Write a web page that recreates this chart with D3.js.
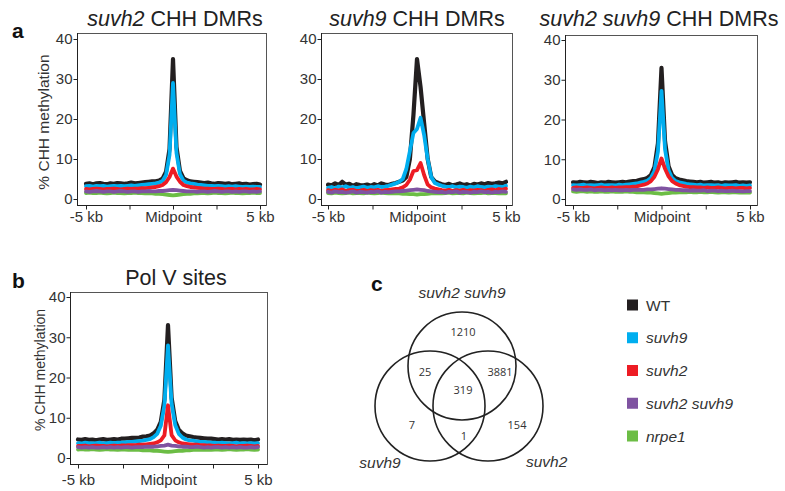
<!DOCTYPE html>
<html>
<head>
<meta charset="utf-8">
<script src="https://cdn.jsdelivr.net/npm/d3@7"></script>
<style>
  body { margin: 0; background: #fff; }
  svg { display: block; font-family: "Liberation Sans", Arial, sans-serif; }
</style>
</head>
<body>
<svg id="chart" width="785" height="491"></svg>
<script>
// bin centres, kb from DMR / Pol V site midpoint
const binsKb = [-5,-4.8,-4.6,-4.4,-4.2,-4,-3.8,-3.6,-3.4,-3.2,-3,-2.8,-2.6,-2.4,-2.2,-2,-1.8,-1.6,-1.4,-1.2,
  -1,-0.8,-0.6,-0.4,-0.2,0,0.2,0.4,0.6,0.8,1,
  1.2,1.4,1.6,1.8,2,2.2,2.4,2.6,2.8,3,3.2,3.4,3.6,3.8,4,4.2,4.4,4.6,4.8,5];

const genotypes = ["WT", "suvh9", "suvh2", "suvh2 suvh9", "nrpe1"];
const genotypeColors = ["#231f20", "#00aeef", "#ed1c24", "#7f53a1", "#6cbd45"];
const drawOrder = ["WT", "suvh9", "suvh2", "nrpe1", "suvh2 suvh9"];
const yTicks = [0, 10, 20, 30, 40];
const xTicks = [-5, -2.5, 0, 2.5, 5];
const xTickLabels = ["-5 kb", "", "Midpoint", "", "5 kb"];

// % CHH methylation, suvh2 CHH DMRs
const suvh2Dmr_WT = [3.8,3.9,3.7,3.9,4.0,3.8,3.7,3.9,3.8,4.0,3.9,3.8,3.9,4.1,3.9,4.0,4.1,4.2,4.3,4.4,
  4.4,4.6,5.1,6.8,12.5,35,13,7.0,5.2,4.7,4.4,
  4.3,4.2,4.1,4.0,4.1,3.9,3.8,4.0,3.9,3.8,3.9,3.7,3.8,3.9,3.7,3.8,3.6,3.7,3.8,3.6];
const suvh2Dmr_suvh9 = [3.2,3.3,3.1,3.3,3.2,3.3,3.1,3.2,3.3,3.2,3.3,3.2,3.3,3.4,3.3,3.4,3.5,3.6,3.7,3.8,
  3.9,4.1,4.5,6.0,11.0,29,11.5,6.2,4.6,4.1,3.9,
  3.8,3.6,3.5,3.4,3.3,3.3,3.2,3.3,3.2,3.1,3.2,3.1,3.2,3.1,3.0,3.1,3.0,3.1,3.0,3.0];
const suvh2Dmr_suvh2 = [2.5,2.4,2.5,2.6,2.5,2.4,2.5,2.5,2.6,2.5,2.4,2.5,2.6,2.5,2.6,2.6,2.7,2.7,2.8,2.9,
  3.0,3.2,3.5,4.2,5.5,7.6,5.6,4.3,3.5,3.2,3.0,
  2.9,2.8,2.7,2.6,2.6,2.5,2.5,2.6,2.5,2.4,2.5,2.5,2.4,2.5,2.4,2.5,2.4,2.4,2.5,2.4];
const suvh2Dmr_suvh2suvh9 = [1.9,1.8,1.9,2.0,1.9,1.8,1.9,1.9,1.8,1.9,2.0,1.9,1.8,1.9,1.9,1.8,1.9,1.9,2.0,1.9,
  1.9,2.0,2.0,2.1,2.2,2.3,2.2,2.1,2.0,1.9,1.9,
  1.9,1.8,1.9,1.9,1.8,1.9,2.0,1.9,1.8,1.9,1.9,1.8,1.9,1.8,1.9,1.9,1.8,1.9,1.8,1.9];
const suvh2Dmr_nrpe1 = [1.5,1.6,1.5,1.5,1.6,1.5,1.4,1.5,1.6,1.5,1.5,1.4,1.5,1.5,1.6,1.5,1.5,1.4,1.4,1.4,
  1.3,1.3,1.2,1.1,1.0,0.9,1.0,1.1,1.2,1.3,1.3,
  1.4,1.4,1.5,1.5,1.4,1.5,1.6,1.5,1.5,1.4,1.5,1.6,1.5,1.5,1.4,1.5,1.5,1.6,1.5,1.5];

// suvh9 CHH DMRs
const suvh9Dmr_WT = [3.6,3.4,3.9,3.5,4.3,3.6,3.8,3.3,3.7,3.5,3.4,3.6,3.3,3.7,3.4,3.9,3.6,3.5,3.8,4.0,
  4.3,4.6,5.5,10,21,35,28,19,10,5.5,4.4,
  4.0,3.7,3.5,3.8,3.4,3.6,3.9,3.5,3.7,3.4,3.8,3.6,3.9,3.7,4.0,3.8,3.9,4.1,3.9,4.3];
const suvh9Dmr_suvh9 = [2.8,3.0,2.7,3.1,2.9,3.2,2.8,3.0,2.7,2.9,3.1,2.8,3.0,2.9,3.2,3.0,3.1,3.3,3.6,3.9,
  4.3,5.0,7.5,12,16.5,17.5,20.3,16,10,5.5,4.0,
  3.6,3.3,3.1,3.0,3.2,2.9,3.1,3.0,2.8,3.1,2.9,3.2,3.0,2.9,3.1,3.0,3.2,3.1,3.0,3.3];
const suvh9Dmr_suvh2 = [2.2,2.0,2.3,2.1,2.4,2.0,2.2,2.3,2.0,2.1,2.3,2.0,2.2,2.1,2.3,2.0,2.2,2.3,2.4,2.5,
  2.6,2.9,3.5,4.8,7.0,7.2,9.0,6.0,3.6,2.9,2.6,
  2.4,2.2,2.1,2.3,2.0,2.2,2.1,2.3,2.0,2.2,2.1,2.3,2.2,2.0,2.3,2.4,2.2,2.5,2.3,2.6];
const suvh9Dmr_suvh2suvh9 = [1.8,1.6,1.9,1.7,1.8,1.6,1.7,1.9,1.6,1.8,1.7,1.6,1.8,1.7,1.9,1.6,1.8,1.7,1.8,1.9,
  1.9,2.0,2.1,2.2,2.3,2.4,2.3,2.2,2.0,1.9,1.8,
  1.7,1.8,1.6,1.8,1.7,1.9,1.6,1.8,1.7,1.6,1.8,1.7,1.9,1.7,1.8,1.6,1.8,1.7,1.9,1.8];
const suvh9Dmr_nrpe1 = [1.5,1.4,1.6,1.5,1.4,1.5,1.6,1.4,1.5,1.5,1.4,1.6,1.5,1.4,1.5,1.6,1.5,1.4,1.5,1.4,
  1.4,1.3,1.3,1.2,1.2,1.1,1.2,1.2,1.3,1.4,1.4,
  1.5,1.4,1.5,1.6,1.4,1.5,1.5,1.4,1.6,1.5,1.4,1.5,1.5,1.6,1.4,1.5,1.5,1.4,1.5,1.4];

// suvh2 suvh9 CHH DMRs
const doubleDmr_WT = [4.2,4.1,4.3,4.2,4.1,4.3,4.2,4.0,4.2,4.1,4.3,4.2,4.1,4.2,4.3,4.2,4.4,4.5,4.6,4.8,
  5.0,5.3,6.0,8.0,14,33,14.5,8.2,6.0,5.2,4.9,
  4.7,4.5,4.4,4.3,4.2,4.3,4.1,4.2,4.3,4.1,4.2,4.0,4.2,4.1,4.2,4.3,4.1,4.2,4.1,4.2];
const doubleDmr_suvh9 = [3.5,3.4,3.5,3.6,3.4,3.5,3.4,3.5,3.6,3.4,3.5,3.5,3.4,3.6,3.5,3.6,3.7,3.8,3.9,4.1,
  4.3,4.6,5.3,7.0,12,27.2,12.5,7.2,5.3,4.5,4.2,
  4.0,3.8,3.7,3.6,3.5,3.6,3.4,3.5,3.5,3.4,3.5,3.3,3.5,3.4,3.4,3.5,3.3,3.4,3.3,3.4];
const doubleDmr_suvh2 = [2.8,2.9,2.8,2.8,2.9,2.8,2.7,2.8,2.9,2.8,2.8,2.9,2.8,2.9,2.9,3.0,3.0,3.1,3.2,3.4,
  3.6,3.9,4.5,5.6,7.5,10.2,7.6,5.7,4.5,3.9,3.5,
  3.3,3.1,3.0,3.0,2.9,2.9,2.8,2.9,2.8,2.8,2.9,2.8,2.7,2.8,2.8,2.7,2.8,2.8,2.7,2.8];
const doubleDmr_suvh2suvh9 = [2.4,2.3,2.4,2.3,2.3,2.4,2.2,2.3,2.3,2.2,2.3,2.2,2.3,2.2,2.2,2.3,2.2,2.3,2.3,2.3,
  2.3,2.4,2.4,2.5,2.6,2.7,2.6,2.5,2.4,2.3,2.3,
  2.2,2.2,2.1,2.2,2.1,2.1,2.2,2.0,2.1,2.1,2.0,2.1,2.0,2.0,2.1,2.0,2.0,1.9,2.0,2.0];
const doubleDmr_nrpe1 = [1.9,1.8,1.9,1.9,1.8,1.9,1.8,1.8,1.9,1.8,1.8,1.9,1.8,1.8,1.8,1.9,1.8,1.8,1.7,1.7,
  1.7,1.6,1.6,1.5,1.4,1.3,1.4,1.5,1.6,1.6,1.7,
  1.7,1.7,1.8,1.7,1.7,1.8,1.7,1.7,1.8,1.7,1.6,1.7,1.7,1.6,1.7,1.7,1.6,1.6,1.7,1.6];

// Pol V sites
const polV_WT = [4.6,4.5,4.7,4.5,4.6,4.4,4.6,4.7,4.5,4.6,4.7,4.6,4.8,4.8,4.9,5.0,5.0,5.1,5.3,5.4,
  5.6,6.1,7.0,9.0,14.5,33,15,9.2,7.0,6.1,5.6,
  5.4,5.2,5.1,5.0,4.9,4.8,4.8,4.7,4.6,4.7,4.6,4.7,4.5,4.6,4.5,4.6,4.5,4.6,4.4,4.6];
const polV_suvh9 = [3.7,3.6,3.8,3.7,3.6,3.7,3.8,3.6,3.7,3.8,3.7,3.8,3.8,3.9,4.0,4.0,4.1,4.2,4.3,4.5,
  4.7,5.2,6.0,8.0,13,28,13.5,8.2,6.0,5.1,4.6,
  4.4,4.3,4.1,4.0,4.0,3.9,3.8,3.8,3.7,3.8,3.7,3.6,3.7,3.8,3.6,3.7,3.6,3.7,3.6,3.7];
const polV_suvh2 = [3.0,3.0,3.1,2.9,3.0,3.1,3.0,3.0,2.9,3.0,3.1,3.0,3.1,3.1,3.2,3.2,3.2,3.3,3.3,3.4,
  3.5,3.6,3.9,4.4,5.6,13.1,5.7,4.4,3.9,3.6,3.5,
  3.4,3.3,3.3,3.2,3.2,3.1,3.1,3.0,3.1,3.0,3.0,3.1,3.0,2.9,3.0,3.0,3.1,3.0,2.9,3.0];
const polV_suvh2suvh9 = [2.7,2.6,2.7,2.6,2.7,2.6,2.6,2.7,2.6,2.7,2.6,2.7,2.6,2.7,2.7,2.6,2.7,2.7,2.7,2.8,
  2.8,2.8,2.9,3.0,3.1,3.3,3.1,3.0,2.9,2.8,2.8,
  2.7,2.7,2.8,2.7,2.6,2.7,2.6,2.7,2.7,2.6,2.7,2.6,2.7,2.6,2.7,2.6,2.6,2.7,2.6,2.7];
const polV_nrpe1 = [2.1,2.2,2.1,2.1,2.2,2.1,2.0,2.1,2.2,2.1,2.1,2.0,2.1,2.1,2.0,2.1,2.0,2.0,1.9,1.9,
  1.9,1.8,1.8,1.7,1.6,1.5,1.6,1.7,1.8,1.8,1.9,
  1.9,2.0,2.0,2.1,2.0,2.1,2.0,2.1,2.1,2.0,2.1,2.2,2.1,2.0,2.1,2.1,2.2,2.1,2.0,2.1];

// Venn: overlap of CHH DMRs
const vennSets = ["suvh2 suvh9", "suvh9", "suvh2"];
const vennRegions = ["suvh2 suvh9 only", "suvh2 suvh9 & suvh9", "suvh2 suvh9 & suvh2", "all three",
  "suvh9 only", "suvh2 only", "suvh9 & suvh2"];
const vennCounts = [1210, 25, 3881, 319, 7, 154, 1];

const svg = d3.select("#chart");
const colorOf = d3.scaleOrdinal().domain(genotypes).range(genotypeColors);
const textColor = "#333";

const panels = [
  { title: [["suvh2", true], [" CHH DMRs", false]], tx: 175, ty: 26,
    data: [suvh2Dmr_WT, suvh2Dmr_suvh9, suvh2Dmr_suvh2, suvh2Dmr_suvh2suvh9, suvh2Dmr_nrpe1],
    left: 77, right: 266, top: 33, bottom: 205, xa: 86, xb: 260, y0: 199, y40: 39,
    xPad: 2, yLabel: { x: 49, y: 122, size: 15.5 } },
  { title: [["suvh9", true], [" CHH DMRs", false]], tx: 417, ty: 26,
    data: [suvh9Dmr_WT, suvh9Dmr_suvh9, suvh9Dmr_suvh2, suvh9Dmr_suvh2suvh9, suvh9Dmr_nrpe1],
    left: 321, right: 512, top: 33, bottom: 205, xa: 328, xb: 506, y0: 199, y40: 39,
    xPad: 2 },
  { title: [["suvh2 suvh9", true], [" CHH DMRs", false]], tx: 659, ty: 26,
    data: [doubleDmr_WT, doubleDmr_suvh9, doubleDmr_suvh2, doubleDmr_suvh2suvh9, doubleDmr_nrpe1],
    left: 565, right: 757, top: 35, bottom: 205, xa: 573, xb: 750, y0: 199, y40: 40,
    xPad: 2 },
  { title: [["Pol V sites", false]], tx: 176, ty: 285,
    data: [polV_WT, polV_suvh9, polV_suvh2, polV_suvh2suvh9, polV_nrpe1],
    left: 70, right: 267, top: 292, bottom: 464, xa: 78, xb: 258, y0: 458, y40: 297,
    xPad: 6, yLabel: { x: 45, y: 370, size: 14 } }
];

function drawPanel(p) {
  const x = d3.scaleLinear().domain([-5, 5]).range([p.xa, p.xb]);
  const y = d3.scaleLinear().domain([0, 40]).range([p.y0, p.y40]);
  const g = svg.append("g");

  g.append("rect")
    .attr("x", p.left + 0.5).attr("y", p.top + 0.5)
    .attr("width", p.right - p.left).attr("height", p.bottom - p.top)
    .attr("fill", "none").attr("stroke", "#555").attr("stroke-width", 1);

  const line = d3.line().x((d, i) => x(binsKb[i])).y(d => y(d));
  drawOrder.forEach(name => {
    const idx = genotypes.indexOf(name);
    g.append("path")
      .datum(p.data[idx])
      .attr("d", line)
      .attr("fill", "none")
      .attr("stroke", colorOf(name))
      .attr("stroke-width", name === "WT" ? 4.2 : 3.8)
      .attr("stroke-linejoin", "round")
      .attr("stroke-linecap", "round");
  });

  const yAxis = g.append("g")
    .attr("transform", `translate(${p.left + 0.5},0)`)
    .call(d3.axisLeft(y).tickValues(yTicks).tickSize(4).tickPadding(1).tickSizeOuter(0));
  yAxis.select(".domain").attr("stroke", "#222").attr("d", `M0,${p.top}V${p.bottom}`);
  yAxis.selectAll("text").attr("font-size", 15).attr("fill", textColor)
    .attr("font-family", "Liberation Sans, Arial, sans-serif");
  yAxis.selectAll(".tick line").attr("stroke", "#222");

  const xAxis = g.append("g")
    .attr("transform", `translate(0,${p.bottom + 0.5})`)
    .call(d3.axisBottom(x).tickValues(xTicks)
      .tickFormat((d, i) => xTickLabels[i]).tickSize(4).tickPadding(p.xPad).tickSizeOuter(0));
  xAxis.select(".domain").attr("stroke", "#222").attr("d", `M${p.left},0H${p.right}`);
  xAxis.selectAll("text").attr("font-size", 15).attr("fill", textColor)
    .attr("font-family", "Liberation Sans, Arial, sans-serif");
  xAxis.selectAll(".tick line").attr("stroke", "#222");

  const t = g.append("text")
    .attr("x", p.tx).attr("y", p.ty)
    .attr("text-anchor", "middle").attr("font-size", 21.5).attr("fill", "#222");
  p.title.forEach(([s, it]) => {
    t.append("tspan").attr("font-style", it ? "italic" : "normal").text(s);
  });

  if (p.yLabel) {
    g.append("text")
      .attr("transform", `translate(${p.yLabel.x},${p.yLabel.y}) rotate(-90)`)
      .attr("text-anchor", "middle")
      .attr("font-size", p.yLabel.size).attr("fill", textColor)
      .text("% CHH methylation");
  }
}

panels.forEach(drawPanel);

// panel letters
[["a", 12, 38], ["b", 12, 288], ["c", 371, 291]].forEach(([s, lx, ly]) => {
  svg.append("text").attr("x", lx).attr("y", ly)
    .attr("font-size", 21).attr("font-weight", "bold").attr("fill", "#111").text(s);
});

// Venn diagram
const vennCircles = [
  { cx: 462, cy: 366, r: 54 },
  { cx: 430, cy: 406, r: 55 },
  { cx: 488, cy: 406, r: 55 }
];
const venn = svg.append("g");
venn.selectAll("circle").data(vennCircles).join("circle")
  .attr("cx", d => d.cx).attr("cy", d => d.cy).attr("r", d => d.r)
  .attr("fill", "none").attr("stroke", "#222").attr("stroke-width", 1.6);

const vennSetLabelPos = [
  { x: 462, y: 298, anchor: "middle" },
  { x: 380, y: 468, anchor: "middle" },
  { x: 526, y: 467, anchor: "start" }
];
venn.selectAll("text.set").data(vennSets).join("text")
  .attr("class", "set")
  .attr("x", (d, i) => vennSetLabelPos[i].x).attr("y", (d, i) => vennSetLabelPos[i].y)
  .attr("text-anchor", (d, i) => vennSetLabelPos[i].anchor)
  .attr("font-size", 15.5).attr("font-style", "italic").attr("fill", textColor)
  .text(d => d);

const vennCountPos = [
  { x: 463, y: 336 }, { x: 425, y: 376 }, { x: 500, y: 376 }, { x: 463, y: 394 },
  { x: 412, y: 429 }, { x: 517, y: 429 }, { x: 464, y: 440 }
];
venn.selectAll("text.count").data(vennCounts).join("text")
  .attr("class", "count")
  .attr("x", (d, i) => vennCountPos[i].x).attr("y", (d, i) => vennCountPos[i].y)
  .attr("text-anchor", "middle")
  .attr("font-family", "Open Sans, Liberation Sans, sans-serif")
  .attr("font-size", 11).attr("fill", textColor)
  .text(d => d);

// legend
const legendY = d3.scalePoint().domain(genotypes).range([305, 436]);
const legend = svg.append("g");
legend.selectAll("rect").data(genotypes).join("rect")
  .attr("x", 627).attr("y", d => legendY(d) - 5.5)
  .attr("width", 11).attr("height", 11)
  .attr("fill", d => colorOf(d));
legend.selectAll("text").data(genotypes).join("text")
  .attr("x", 646).attr("y", d => legendY(d) + 5.5)
  .attr("font-size", 15.5).attr("fill", textColor)
  .attr("font-style", d => d === "WT" ? "normal" : "italic")
  .text(d => d);
</script>
</body>
</html>
